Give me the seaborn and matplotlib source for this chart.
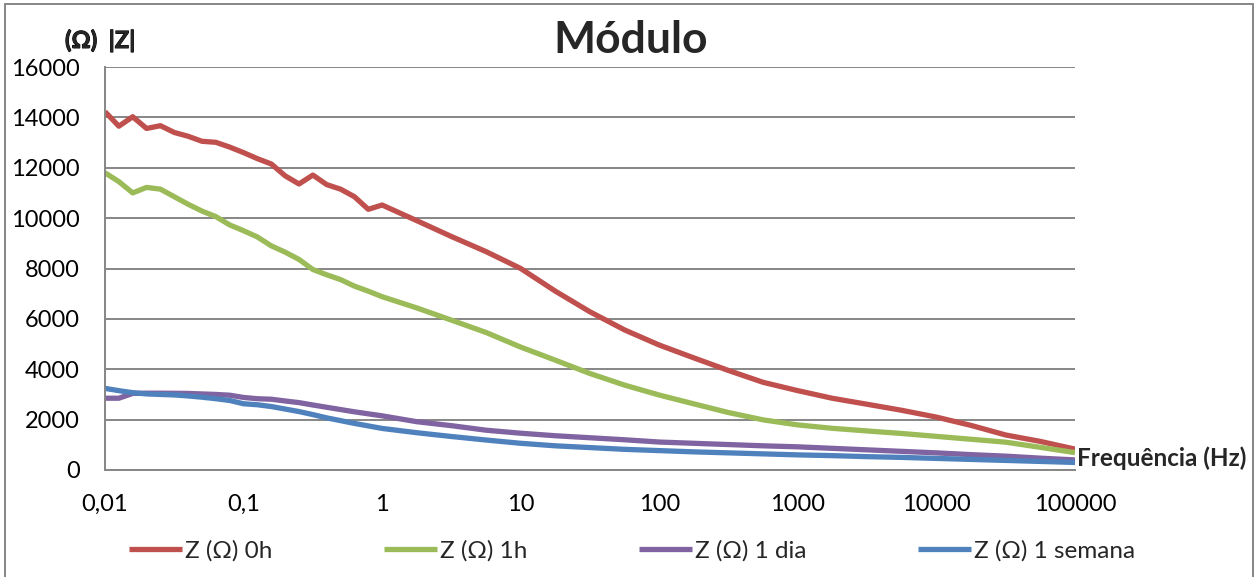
import matplotlib
matplotlib.use("Agg")
import matplotlib.pyplot as plt
import matplotlib.patheffects as pe
from matplotlib.patches import Rectangle
from matplotlib.ticker import NullLocator
import pandas as pd
import seaborn as sns

# Measurement frequencies (Hz), shared by all four series
freq_hz = [
    0.01, 0.01259, 0.01585, 0.01995, 0.02512, 0.03162, 0.03981, 0.05012, 0.0631, 0.07943,
    0.1, 0.1259, 0.1585, 0.1995, 0.2512, 0.3162, 0.3981, 0.5012, 0.631, 0.7943,
    1.0, 1.778, 3.162, 5.623, 10.0, 17.78, 31.62, 56.23, 100.0, 177.8, 316.2, 562.3,
    1000.0, 1778.0, 3162.0, 5623.0, 10000.0, 17783.0, 31623.0, 56234.0, 100000.0,
]

# |Z| in ohm for each immersion time
z_0h = [
    14225, 13650, 14025, 13560, 13670, 13400, 13250, 13050, 13010, 12820,
    12600, 12360, 12150, 11680, 11355, 11710, 11330, 11150, 10850, 10350,
    10520, 9900, 9270, 8670, 8000, 7100, 6280, 5560, 4960, 4450, 3950, 3480,
    3150, 2846, 2610, 2370, 2100, 1770, 1390, 1135, 830,
]
z_1h = [
    11800, 11450, 11000, 11220, 11150, 10850, 10550, 10280, 10060, 9730,
    9500, 9250, 8900, 8650, 8360, 7960, 7750, 7560, 7300, 7100,
    6880, 6435, 5950, 5460, 4880, 4360, 3830, 3370, 2975, 2625, 2280, 1990,
    1790, 1654, 1550, 1450, 1335, 1220, 1105, 900, 690,
]
z_1dia = [
    2850, 2850, 3040, 3050, 3050, 3045, 3040, 3020, 3000, 2970,
    2880, 2830, 2810, 2740, 2675, 2580, 2490, 2400, 2310, 2230,
    2150, 1918, 1760, 1580, 1460, 1360, 1280, 1200, 1110, 1060, 1010, 960,
    920, 860, 800, 740, 680, 610, 550, 470, 400,
]
z_1semana = [
    3240, 3150, 3070, 3020, 3000, 2980, 2940, 2890, 2830, 2760,
    2630, 2590, 2520, 2420, 2320, 2200, 2070, 1960, 1850, 1750,
    1650, 1480, 1330, 1190, 1060, 960, 890, 820, 770, 720, 680, 640,
    600, 570, 530, 500, 460, 420, 380, 340, 300,
]

series_names = ["Z (Ω) 0h", "Z (Ω) 1h", "Z (Ω) 1 dia", "Z (Ω) 1 semana"]
series_values = [z_0h, z_1h, z_1dia, z_1semana]
series_colors = ["#C0504D", "#9BBB59", "#8064A2", "#4F81BD"]

x_ticks = [0.01, 0.1, 1, 10, 100, 1000, 10000, 100000]
x_tick_labels = ["0,01", "0,1", "1", "10", "100", "1000", "10000", "100000"]
y_ticks = [0, 2000, 4000, 6000, 8000, 10000, 12000, 14000, 16000]

rows = []
for name, vals in zip(series_names, series_values):
    for f, z in zip(freq_hz, vals):
        rows.append({"freq": f, "Z": z, "serie": name})
df = pd.DataFrame(rows)

sns.set_style("white")
plt.rcParams["font.family"] = ["Lato", "DejaVu Sans"]

W, H = 1260, 577
fig = plt.figure(figsize=(W / 100, H / 100), dpi=100)
ax = fig.add_axes([105 / W, 1 - 470 / H, (1075 - 105) / W, (470 - 67) / H])

grid_col = "#868686"
sns.lineplot(
    data=df, x="freq", y="Z", hue="serie", hue_order=series_names,
    palette=dict(zip(series_names, series_colors)), linewidth=3.8,
    sort=False, estimator=None, ax=ax, legend=False,
)
for ln in ax.get_lines():
    ln.set_solid_joinstyle("round")
    ln.set_solid_capstyle("butt")

ax.set_xscale("log")
ax.set_xlim(0.01, 100000)
ax.set_ylim(0, 16000)
ax.set_xticks(x_ticks)
ax.set_xticklabels(x_tick_labels)
ax.xaxis.set_minor_locator(NullLocator())
ax.set_yticks(y_ticks)
ax.set_yticklabels([str(v) for v in y_ticks])
ax.tick_params(axis="both", length=0, labelsize=17, colors="black")
ax.tick_params(axis="y", pad=18)
ax.tick_params(axis="x", pad=17)
ax.set_xlabel("")
ax.set_ylabel("")

ax.yaxis.grid(True, color=grid_col, linewidth=1.4)
ax.xaxis.grid(False)
ax.set_axisbelow(True)
for side in ("top", "right"):
    ax.spines[side].set_visible(False)
for side in ("left", "bottom"):
    ax.spines[side].set_color(grid_col)
    ax.spines[side].set_linewidth(1.4)

fig.text(631 / W, 1 - 40 / H, "Módulo", ha="center", va="center",
         fontsize=32, fontweight="bold")
unit_label = fig.text(65 / W, 1 - 40 / H, "(Ω)  |Z|", ha="left", va="center",
                      fontsize=17, fontweight="bold")
unit_label.set_path_effects([pe.withStroke(linewidth=0.7, foreground="black")])
fig.text(1077 / W, 1 - 458 / H, "Frequência (Hz)", ha="left", va="center",
         fontsize=17.5, fontweight="bold")

handles = ax.get_lines()[:4]
fig.legend(
    handles, series_names, loc="center", bbox_to_anchor=(632 / W, 1 - 551 / H),
    ncol=4, frameon=False, fontsize=17.5, handlelength=2.18,
    handletextpad=0.12, columnspacing=4.6,
)

fig.add_artist(Rectangle((5 / W, -0.01), (1253 - 5) / W, 0.01 + 1 - 4 / H,
                         transform=fig.transFigure, fill=False,
                         edgecolor=grid_col, linewidth=1.4))

fig.savefig("out.png", dpi=100)
